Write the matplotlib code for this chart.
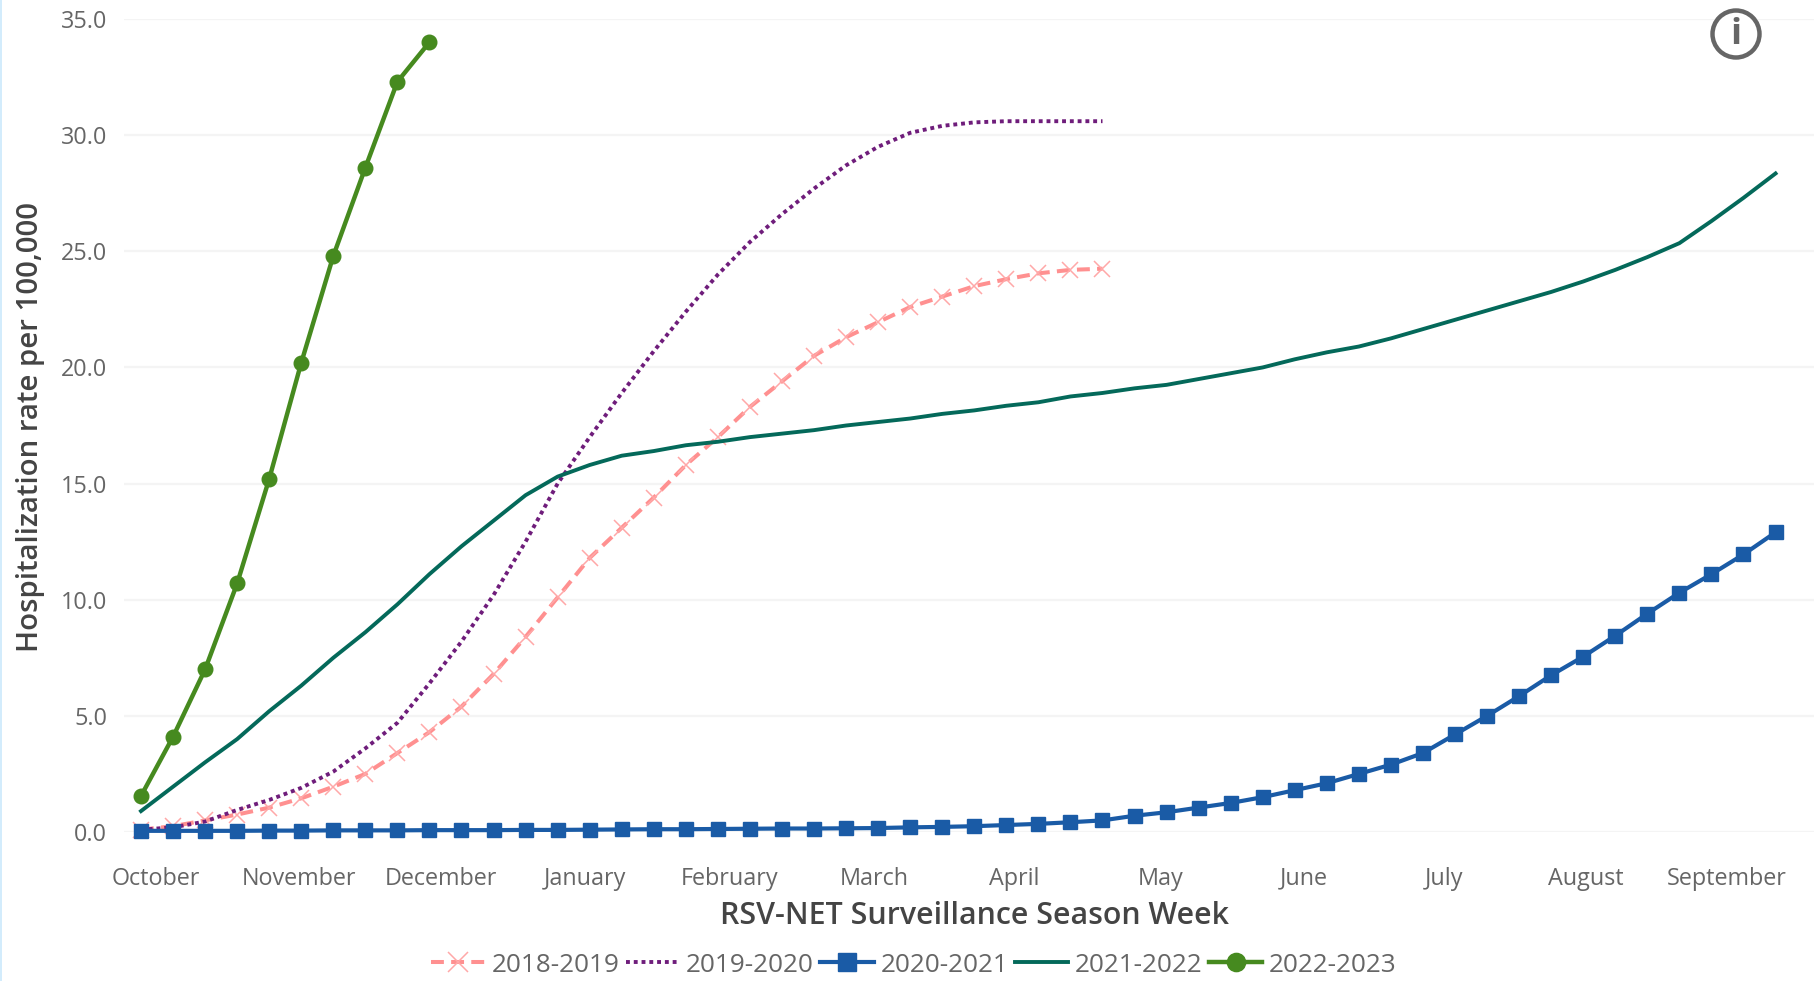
import matplotlib
matplotlib.use("Agg")
import matplotlib.pyplot as plt
from matplotlib.patches import Circle, Rectangle

plt.rcParams['font.family'] = ['Open Sans', 'DejaVu Sans']

W, H = 1815, 981

months = ["October", "November", "December", "January", "February", "March",
          "April", "May", "June", "July", "August", "September"]
month_pos = [0.47, 4.93, 9.35, 13.85, 18.37, 22.87, 27.25, 31.8, 36.28, 40.65, 45.08, 49.47]
y_ticks = [0, 5, 10, 15, 20, 25, 30, 35]

s2018 = [0.1, 0.25, 0.5, 0.75, 1.05, 1.45, 1.95, 2.5, 3.4, 4.3, 5.4, 6.8, 8.4, 10.1, 11.8, 13.1,
         14.4, 15.8, 17.0, 18.3, 19.4, 20.5, 21.3, 21.95, 22.6, 23.05, 23.5, 23.8, 24.05, 24.2, 24.25]
s2019 = [0.1, 0.2, 0.45, 0.95, 1.38, 1.9, 2.6, 3.6, 4.7, 6.4, 8.2, 10.2, 12.5, 15.0, 17.0, 18.9,
         20.7, 22.4, 24.0, 25.4, 26.6, 27.7, 28.7, 29.5, 30.1, 30.4, 30.55, 30.6, 30.6, 30.6, 30.6]
s2020 = [0.05, 0.05, 0.05, 0.05, 0.06, 0.06, 0.07, 0.07, 0.07, 0.08, 0.08, 0.08, 0.09, 0.09, 0.1, 0.11,
         0.12, 0.12, 0.13, 0.14, 0.15, 0.15, 0.16, 0.17, 0.2, 0.22, 0.25, 0.3, 0.35, 0.42, 0.5, 0.7,
         0.85, 1.05, 1.25, 1.5, 1.8, 2.1, 2.5, 2.9, 3.4, 4.2, 5.0, 5.85, 6.75, 7.55, 8.45, 9.4,
         10.3, 11.1, 11.95, 12.9]
s2021 = [0.9, 1.95, 3.0, 4.0, 5.2, 6.3, 7.5, 8.6, 9.8, 11.1, 12.3, 13.4, 14.5, 15.3, 15.8, 16.2,
         16.4, 16.65, 16.8, 17.0, 17.15, 17.3, 17.5, 17.65, 17.8, 18.0, 18.15, 18.35, 18.5, 18.75,
         18.9, 19.1, 19.25, 19.5, 19.75, 20.0, 20.35, 20.65, 20.9, 21.25, 21.65, 22.05, 22.45,
         22.85, 23.25, 23.7, 24.2, 24.75, 25.35, 26.3, 27.3, 28.35]
s2022 = [1.55, 4.1, 7.0, 10.7, 15.2, 20.2, 24.8, 28.6, 32.3, 34.0]

# pixel layout of the plot area, full size reference
left, right, top, bottom = 124, 1815, 19, 832
x0, dx = 141, 32.05

fig = plt.figure(figsize=(W / 100, H / 100), dpi=100, facecolor='white')
ax = fig.add_axes([left / W, 1 - bottom / H, (right - left) / W, (bottom - top) / H])

ax.plot(range(len(s2018)), s2018, color='#ff9090', lw=2.9, ls=(0, (3.2, 1.8)), marker='x', ms=11, mew=1.1,
        mec='#ffa8a8', label='2018-2019', clip_on=False, zorder=3)
ax.plot(range(len(s2019)), s2019, color='#6f1d7b', lw=2.8, ls=(0, (1, 1.0)), label='2019-2020',
        clip_on=False, zorder=3)
ax.plot(range(len(s2020)), s2020, color='#1a5ba6', lw=3.0, marker='s', ms=10, label='2020-2021',
        clip_on=False, zorder=4)
ax.plot(range(len(s2021)), s2021, color='#04695a', lw=2.8, label='2021-2022', clip_on=False, zorder=3)
ax.plot(range(len(s2022)), s2022, color='#468a1f', lw=3.2, marker='o', ms=10.5, label='2022-2023',
        clip_on=False, zorder=5)

ax.set_xlim((left - x0) / dx, (right - x0) / dx)
ax.set_ylim(0, 35)
ax.set_yticks(y_ticks)
ax.set_yticklabels([f"{v:.1f}" for v in y_ticks])
ax.set_xticks(month_pos)
ax.set_xticklabels(months)
ax.tick_params(axis='both', length=0, labelsize=16.8, labelcolor='#666666')
ax.tick_params(axis='x', pad=25)
ax.tick_params(axis='y', pad=12)
ax.grid(axis='y', color='#f4f4f4', lw=1.6)
ax.set_axisbelow(True)
for s in ax.spines.values():
    s.set_visible(False)

fig.text(975 / W, 1 - 916 / H, "RSV-NET Surveillance Season Week", ha='center', va='center',
         fontsize=21.9, color='#444444', fontweight='semibold')
fig.text(31 / W, 1 - 427 / H, "Hospitalization rate per 100,000", ha='center', va='center',
         rotation=90, fontsize=21.2, color='#444444', fontweight='semibold')

fig.legend(loc='center', bbox_to_anchor=(914 / W, 1 - 965 / H), ncol=5, frameon=False, fontsize=18.8,
           labelcolor='#666666', handlelength=2.05, handletextpad=0.25, columnspacing=0.25,
           markerscale=1.25, borderpad=0, borderaxespad=0)

# info icon and the light edge of the page
overlay = fig.add_axes([0, 0, 1, 1], facecolor='none')
overlay.set_xlim(0, W)
overlay.set_ylim(H, 0)
overlay.set_aspect('equal')
overlay.axis('off')
overlay.add_patch(Circle((1736, 34), 23.5, fc='white', ec='#666666', lw=3.2))
overlay.text(1736, 35, "i", ha='center', va='center', fontsize=26, color='#666666', fontweight='bold')
overlay.add_patch(Rectangle((0, 0), 2.5, H, fc='#d3ecfc', ec='none'))

fig.savefig("out.png", dpi=100)
